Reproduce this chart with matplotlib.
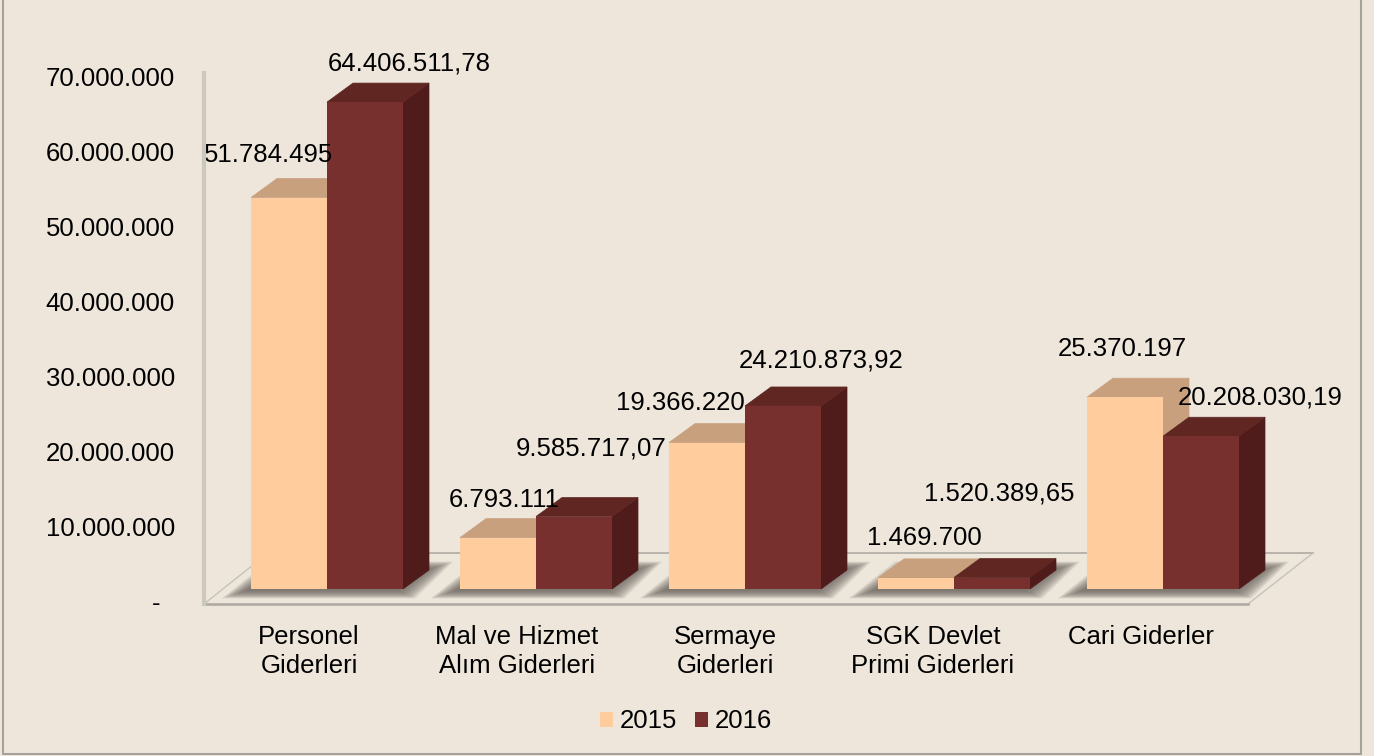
import matplotlib
matplotlib.use("Agg")
import matplotlib.pyplot as plt
from matplotlib.patches import Polygon, Patch
from matplotlib.ticker import FuncFormatter

plt.rcParams['font.family'] = ['Liberation Sans', 'DejaVu Sans']

# Data
categories = ["Personel\nGiderleri", "Mal ve Hizmet\nAlım Giderleri", "Sermaye\nGiderleri",
              "SGK Devlet\nPrimi Giderleri", "Cari Giderler"]
values_2015 = [51784495, 6793111, 19366220, 1469700, 25370197]
values_2016 = [64406511.78, 9585717.07, 24210873.92, 1520389.65, 20208030.19]
axis_ticks = [0, 10000000, 20000000, 30000000, 40000000, 50000000, 60000000, 70000000]

# label offsets from the top of each bar, in pixels
offsets_2015 = [(-20, 43), (6, 38), (-27, 40), (8, 40), (-3, 48)]
offsets_2016 = [(44, 39), (17, 68), (38, 45), (7, 84), (59, 39)]

W, H = 1374, 756
BG = "#EEE6DB"
PEACH, PEACH_TOP = "#FFCC9E", "#C9A07E"
DARK, DARK_TOP, DARK_SIDE = "#78302F", "#5F2622", "#501C1B"
FS = 18.5


def tr_number(v, decimals=0):
    s = f"{v:,.{decimals}f}"
    return s.replace(",", "#").replace(".", ",").replace("#", ".")


fig = plt.figure(figsize=(W / 100, H / 100), dpi=100, facecolor=BG)

# main axes fills the figure: one category = 209 px, 7.56 px per million
PX_X = 209.0
PX_Y = 7.56e-6
ax = fig.add_axes([0, 0, 1, 1])
ax.set_xlim(-327.0 / PX_X, (W - 327.0) / PX_X)
ax.set_ylim((589 - H) / PX_Y, 589 / PX_Y)
ax.axis("off")


def px(x, y):
    return ((x - 327.0) / PX_X, (589 - y) / PX_Y)


def poly(points, color, z, alpha=None, lw=0):
    ax.add_patch(Polygon([px(*p) for p in points], closed=True, facecolor=color,
                         edgecolor=color, linewidth=lw, alpha=alpha, zorder=z))


# outer frame
ax.plot(*zip(px(3, 0), px(3, 754), px(1361, 754), px(1361, 0)), color="#A5A29B", lw=1.5, zorder=1)

# floor
poly([(204, 604), (1248, 604), (1313, 553), (268, 553)], "#EDE6DB", 2)
ax.plot(*zip(px(268, 553), px(1313, 553)), color="#B5B0A8", lw=1.3, zorder=3)
ax.plot(*zip(px(1313, 553), px(1248, 604)), color="#C6C2BA", lw=1.0, zorder=3)
ax.plot(*zip(px(204, 604), px(268, 553)), color="#C6C2BA", lw=1.0, zorder=3)
ax.plot(*zip(px(203, 604), px(1248, 604)), color="#B0ABA3", lw=1.9, zorder=3)

# bar shadows on the floor, faded by stacking
for i in range(len(categories)):
    x0 = 327.5 + 209 * i
    for grow in range(10, -9, -1):
        poly([(x0 - 92 - grow * 1.4, 594 + grow * 0.45), (x0 + 78 + grow * 1.0, 594 + grow * 0.45),
              (x0 + 112 + grow * 1.4, 566 - grow * 0.45), (x0 - 50 - grow * 1.0, 566 - grow * 0.45)],
             "#6E675F", 4, alpha=0.085)

# bars
bw = 76 / PX_X
dx = 26 / PX_X
dy = 19 / PX_Y
z = 10
for i in range(len(categories)):
    for val, off, front, top, side, num, dec in (
            (values_2015[i], -bw, PEACH, PEACH_TOP, PEACH_TOP, offsets_2015[i], 0),
            (values_2016[i], 0, DARK, DARK_TOP, DARK_SIDE, offsets_2016[i], 2)):
        left = i + off
        right = left + bw
        ax.add_patch(Polygon([(right, 0), (right + dx, dy), (right + dx, val + dy), (right, val)],
                             facecolor=side, edgecolor=side, lw=0.5, zorder=z))
        ax.add_patch(Polygon([(left, val), (right, val), (right + dx, val + dy), (left + dx, val + dy)],
                             facecolor=top, edgecolor=top, lw=0.5, zorder=z))
        ax.bar(left, val, width=bw, align="edge", color=front, zorder=z + 0.5)
        ax.annotate(tr_number(val, dec), xy=(left + bw / 2, val), xytext=num, textcoords="offset pixels",
                    ha="center", va="center", fontsize=FS, color="black", zorder=50)
        z += 1

# category labels
for i, name in enumerate(categories):
    ax.text(i * 208 / PX_X - 18 / PX_X, px(0, 625)[1], name, ha="center", va="top", fontsize=FS,
            linespacing=1.24, color="black", zorder=50)

# value axis on the left wall
wall = fig.add_axes([204 / W, 1 - 604 / H, 0.0001, (604 - 73) / H])
wall.patch.set_visible(False)
wall.set_ylim(-320000, 70400000)
wall.set_yticks(axis_ticks)
wall.set_xticks([])
wall.yaxis.set_major_formatter(FuncFormatter(lambda v, p: "-  " if v == 0 else tr_number(v)))
wall.tick_params(axis="y", length=0, pad=21, labelsize=FS, labelcolor="black")
for s in ("top", "right", "bottom"):
    wall.spines[s].set_visible(False)
wall.spines["left"].set_color("#CDC8BE")
wall.spines["left"].set_linewidth(3)

# legend
handles = [Patch(facecolor=PEACH, label="2015"), Patch(facecolor=DARK, label="2016")]
fig.legend(handles=handles, loc="center", bbox_to_anchor=(686 / W, 1 - 721.5 / H), ncol=2, frameon=False,
           fontsize=FS, handlelength=0.5, handleheight=0.5, handletextpad=0.25, columnspacing=0.7,
           borderpad=0, borderaxespad=0)

fig.savefig("out.png", dpi=100, facecolor=BG)
